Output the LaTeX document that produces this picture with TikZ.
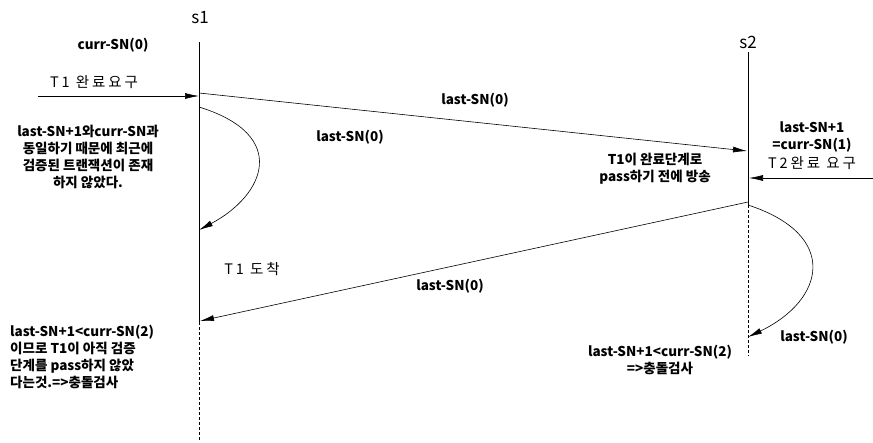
\documentclass[tikz,border=0pt]{standalone}
\usepackage{fontspec}
\setmainfont{Noto Sans CJK KR}
\newfontfamily\spacedkr[LetterSpace=20]{Noto Sans CJK KR}
\usetikzlibrary{arrows.meta}
\begin{document}
\begin{tikzpicture}[x=1pt,y=-1pt,
  lbl/.style={font=\fontsize{13.5}{17}\selectfont\bfseries, inner sep=0pt},
  sp/.style={font=\fontsize{14.5}{17}\selectfont\spacedkr, inner sep=0pt},
  hdr/.style={font=\fontsize{17}{19}\selectfont, inner sep=0pt},
  msg/.style={line width=0.6pt, -{Latex[length=14pt,width=6pt]}},
  life/.style={line width=0.6pt},
  lifed/.style={line width=0.6pt, dash pattern=on 3pt off 2pt}]
\useasboundingbox (0,0) rectangle (873,442);
% lifelines
\node[hdr] (s1) at (200,18) {s1};
\node[hdr] (s2) at (748,42) {s2};
\coordinate (s1top) at (199,42);
\coordinate (s1mid) at (199,322);
\coordinate (s1bot) at (199,440);
\coordinate (s2top) at (748,52);
\coordinate (s2mid) at (748,205);
\coordinate (s2bot) at (748,356);
\draw[life] (s1top) -- (s1mid);
\draw[lifed] (s1mid) -- (s1bot);
\draw[life] (s2top) -- (s2mid);
\draw[lifed] (s2mid) -- (s2bot);
% texts
\node[lbl] (curr) at (113,45) {curr-SN(0)};
\node[sp] (t1req) at (94,82) {T1 완료요구};
\coordinate (inL) at (38,96);
\coordinate (a1) at (199,96);
\draw[msg] (inL) -- (a1);
\coordinate (m1s) at (199,93);
\coordinate (m1e) at (747,151);
\draw[msg] (m1s) -- (m1e);
\node[lbl] (l1) at (475,100) {last-SN(0)};
\coordinate (c1s) at (199,107);
\coordinate (c1e) at (199,230);
\draw[msg] (c1s) .. controls (290,135) and (265,195) .. (c1e);
\node[lbl] (l2) at (350,137) {last-SN(0)};
\node[lbl, align=center] (note1) at (88,157) {last-SN+1와curr-SN과\\동일하기 때문에 최근에\\검증된 트랜잭션이 존재\\하지 않았다.};
\node[lbl, align=center] (s2note) at (812,137) {last-SN+1\\=curr-SN(1)};
\node[sp] (t2req) at (812,163) {T2완료 요구};
\coordinate (inR) at (873,178);
\coordinate (a2) at (749,178);
\draw[msg] (inR) -- (a2);
\node[lbl, align=center] (bc) at (655,169) {T1이 완료단계로\\pass하기 전에 방송};
\coordinate (m2s) at (748,202);
\coordinate (m2e) at (200,321);
\draw[msg] (m2s) -- (m2e);
\node[sp] (arr) at (252,269) {T1 도착};
\node[lbl] (l3) at (450,286) {last-SN(0)};
\coordinate (c2s) at (748,205);
\coordinate (c2e) at (748,337);
\draw[msg] (c2s) .. controls (840,235) and (825,300) .. (c2e);
\node[lbl] (l4) at (814,337) {last-SN(0)};
\node[lbl, align=center] (n2) at (660,360) {last-SN+1<curr-SN(2)\\=>충돌검사};
\node[lbl, align=left, anchor=north west] (n3) at (10,325) {last-SN+1<curr-SN(2)\\이므로 T1이 아직 검증\\단계를 pass하지 않았\\다는것.=>충돌검사};
\end{tikzpicture}
\end{document}
